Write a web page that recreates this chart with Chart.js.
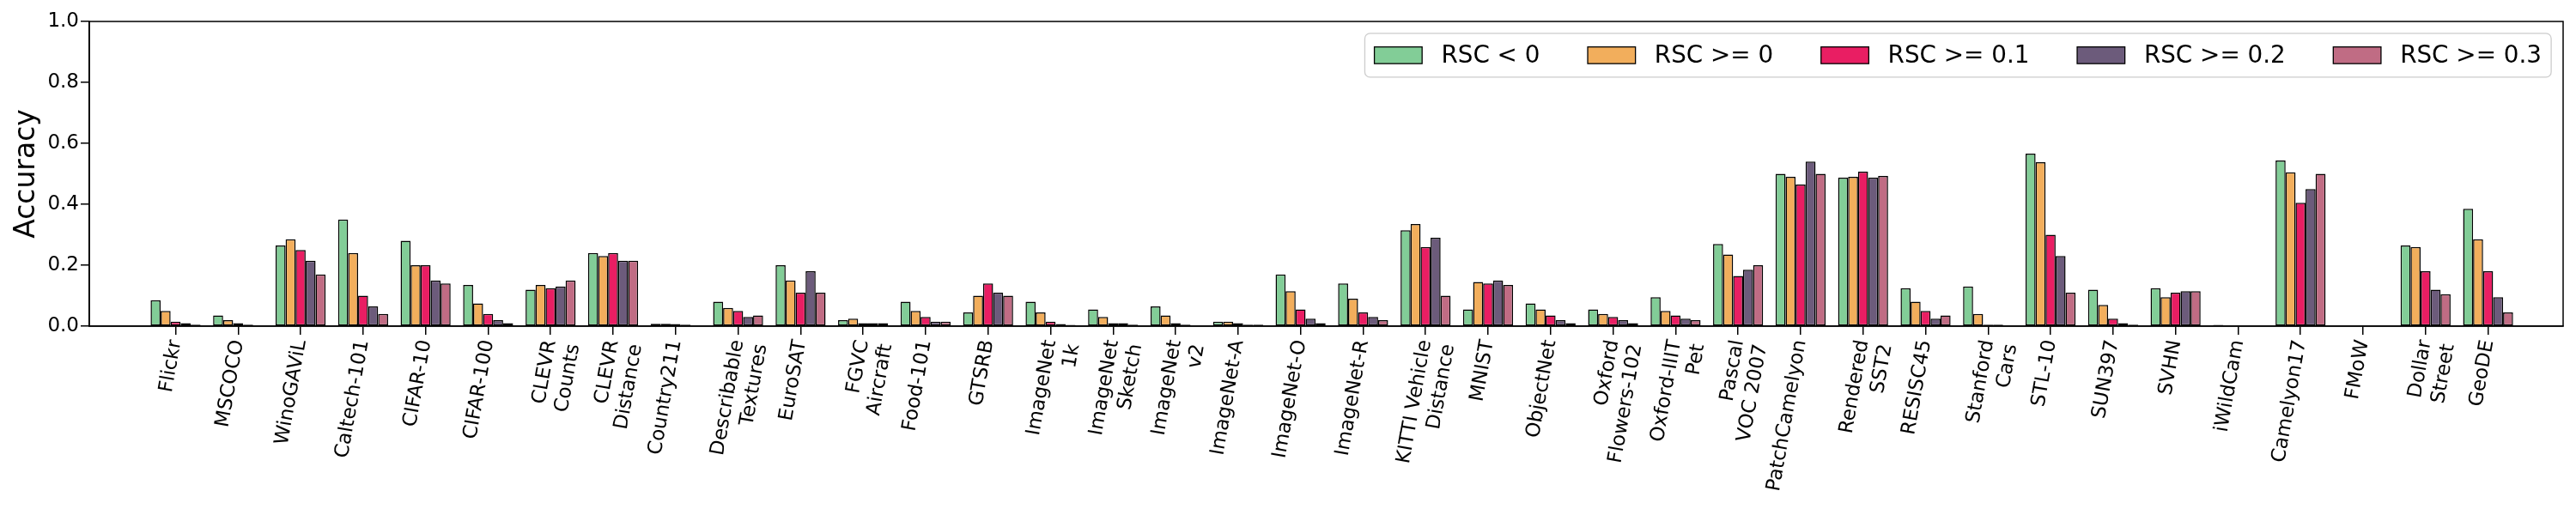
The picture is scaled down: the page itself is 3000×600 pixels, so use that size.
<!DOCTYPE html>
<html>
<head>
<meta charset="utf-8">
<script src="https://cdn.jsdelivr.net/npm/chart.js@4.4.1/dist/chart.umd.min.js"></script>
<style>html,body{margin:0;padding:0;background:#fff}</style>
</head>
<body>
<canvas id="chart" width="3000" height="600"></canvas>
<script>
const categories = ["Flickr", "MSCOCO", "WinoGAViL", "Caltech-101", "CIFAR-10", "CIFAR-100",
  ["CLEVR", "Counts"], ["CLEVR", "Distance"], "Country211", ["Describable", "Textures"], "EuroSAT",
  ["FGVC", "Aircraft"], "Food-101", "GTSRB", ["ImageNet", "1k"], ["ImageNet", "Sketch"], ["ImageNet", "v2"],
  "ImageNet-A", "ImageNet-O", "ImageNet-R", ["KITTI Vehicle", "Distance"], "MNIST", "ObjectNet",
  ["Oxford", "Flowers-102"], ["Oxford-IIIT", "Pet"], ["Pascal", "VOC 2007"], "PatchCamelyon",
  ["Rendered", "SST2"], "RESISC45", ["Stanford", "Cars"], "STL-10", "SUN397", "SVHN", "iWildCam",
  "Camelyon17", "FMoW", ["Dollar", "Street"], "GeoDE"];

const seriesNames = ["RSC < 0", "RSC >= 0", "RSC >= 0.1", "RSC >= 0.2", "RSC >= 0.3"];

const rscBelow0 = [0.085, 0.035, 0.265, 0.35, 0.28, 0.135, 0.12, 0.24, 0.008, 0.08, 0.20, 0.02, 0.08, 0.045, 0.08, 0.055, 0.065, 0.015, 0.17, 0.14, 0.315, 0.055, 0.075, 0.055, 0.095, 0.27, 0.50, 0.487, 0.125, 0.13, 0.566, 0.12, 0.125, 0.004, 0.544, 0, 0.265, 0.385];
const rscAbove0 = [0.05, 0.02, 0.285, 0.24, 0.20, 0.075, 0.135, 0.23, 0.008, 0.06, 0.15, 0.025, 0.05, 0.10, 0.045, 0.03, 0.035, 0.015, 0.115, 0.09, 0.335, 0.145, 0.055, 0.04, 0.05, 0.235, 0.49, 0.49, 0.08, 0.04, 0.538, 0.07, 0.095, 0.001, 0.505, 0, 0.26, 0.285];
const rscAbove01 = [0.015, 0.01, 0.25, 0.10, 0.20, 0.04, 0.125, 0.24, 0.007, 0.05, 0.11, 0.01, 0.03, 0.14, 0.015, 0.01, 0.01, 0.01, 0.055, 0.045, 0.26, 0.14, 0.035, 0.03, 0.035, 0.165, 0.465, 0.507, 0.05, 0.005, 0.30, 0.025, 0.11, 0.003, 0.405, 0, 0.18, 0.18];
const rscAbove02 = [0.01, 0.005, 0.215, 0.065, 0.15, 0.02, 0.13, 0.215, 0.005, 0.03, 0.18, 0.01, 0.015, 0.11, 0.007, 0.01, 0.005, 0.005, 0.025, 0.03, 0.29, 0.15, 0.02, 0.02, 0.025, 0.185, 0.54, 0.487, 0.025, 0.005, 0.23, 0.01, 0.115, 0.003, 0.45, 0, 0.12, 0.095];
const rscAbove03 = [0.005, 0.003, 0.17, 0.04, 0.14, 0.01, 0.15, 0.215, 0.003, 0.035, 0.11, 0.01, 0.015, 0.10, 0.004, 0.005, 0.003, 0.005, 0.01, 0.02, 0.10, 0.135, 0.01, 0.01, 0.02, 0.20, 0.50, 0.493, 0.035, 0.003, 0.11, 0.005, 0.115, 0.002, 0.50, 0, 0.105, 0.045];

const colors = ["#82cd97", "#f2ae5c", "#e91e63", "#6c5b7b", "#c06c84"];
const series = [rscBelow0, rscAbove0, rscAbove01, rscAbove02, rscAbove03];

Chart.defaults.font.family = '"DejaVu Sans"';
Chart.defaults.color = "#000";

// box round the plot area, like matplotlib spines
const frame = {
  id: "frame",
  afterDatasetsDraw(chart) {
    const {ctx, chartArea: a} = chart;
    ctx.save();
    ctx.strokeStyle = "#000";
    ctx.lineWidth = 1.5;
    ctx.strokeRect(a.left, a.top, a.right - a.left, a.bottom - a.top);
    ctx.restore();
  }
};

// legend inside the axes, upper right, one row
const boxLegend = {
  id: "boxLegend",
  afterDraw(chart) {
    const {ctx, chartArea: a} = chart;
    const fs = 27.8;
    const sw = 2 * fs, sh = 0.7 * fs, pad = 0.8 * fs, gap = 2 * fs, bp = 0.4 * fs;
    ctx.save();
    ctx.font = fs + 'px "DejaVu Sans"';
    const widths = seriesNames.map(n => ctx.measureText(n).width);
    const total = widths.reduce((s, w) => s + w, 0) + 5 * (sw + pad) + 4 * gap + 2 * bp;
    const h = 51;
    const right = a.right - 0.5 * fs;
    const top = a.top + 0.5 * fs;
    const left = right - total;
    ctx.beginPath();
    ctx.roundRect(left, top, total, h, 6);
    ctx.fillStyle = "rgba(255,255,255,0.8)";
    ctx.fill();
    ctx.strokeStyle = "#cccccc";
    ctx.lineWidth = 1.3;
    ctx.stroke();
    const cy = top + h / 2;
    let x = left + bp;
    ctx.textBaseline = "middle";
    ctx.textAlign = "left";
    seriesNames.forEach((name, i) => {
      ctx.fillStyle = colors[i];
      ctx.fillRect(x, cy - sh / 2, sw, sh);
      ctx.strokeStyle = "#000";
      ctx.lineWidth = 1.3;
      ctx.strokeRect(x, cy - sh / 2, sw, sh);
      ctx.fillStyle = "#000";
      ctx.fillText(name, x + sw + pad, cy + 1);
      x += sw + pad + widths[i] + gap;
    });
    ctx.restore();
  }
};

new Chart(document.getElementById("chart"), {
  type: "bar",
  data: {
    datasets: series.map((vals, i) => ({
      label: seriesNames[i],
      data: vals.map((v, j) => ({x: j, y: v})),
      backgroundColor: colors[i],
      borderColor: "#000",
      borderWidth: 1.5,
      borderSkipped: false,
      categoryPercentage: 0.8,
      barPercentage: 1.0
    }))
  },
  options: {
    responsive: false,
    devicePixelRatio: 1,
    animation: false,
    layout: {padding: {left: 8, top: 25, right: 15, bottom: 0}},
    plugins: {legend: {display: false}, tooltip: {enabled: false}},
    scales: {
      x: {
        type: "linear",
        min: -0.86,
        max: 37.68,
        afterFit: (s) => { s.height = 220; },
        grid: {drawOnChartArea: false, offset: false, tickLength: 10, color: "#000", lineWidth: 1.5},
        border: {display: true, color: "#000", width: 1.5},
        ticks: {
          stepSize: 1,
          includeBounds: false,
          autoSkip: false,
          maxTicksLimit: 100,
          minRotation: 80,
          maxRotation: 80,
          padding: 4,
          font: {size: 23},
          callback: (v) => Number.isInteger(v) ? categories[v] : ""
        }
      },
      y: {
        min: 0,
        max: 1,
        afterFit: (s) => { s.width = 96; },
        grid: {drawOnChartArea: false, tickLength: 10, color: "#000", lineWidth: 1.5},
        border: {display: true, color: "#000", width: 1.5},
        ticks: {stepSize: 0.2, padding: 2, font: {size: 23}, callback: (v) => v.toFixed(1)},
        title: {display: true, text: "Accuracy", font: {size: 33}, padding: {top: 4, bottom: 4}}
      }
    }
  },
  plugins: [frame, boxLegend]
});
</script>
</body>
</html>
